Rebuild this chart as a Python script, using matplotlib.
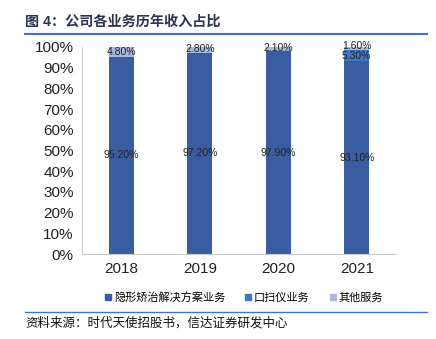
import numpy as np
import matplotlib
matplotlib.use('Agg')
import matplotlib.pyplot as plt
from matplotlib.lines import Line2D

plt.rcParams['font.family'] = ['Liberation Sans', 'Noto Sans CJK SC', 'DejaVu Sans']

############### Data
years = ['2018', '2019', '2020', '2021']
series = ['隐形矫治解决方案业务', '口扫仪业务', '其他服务']
invisible = [95.2, 97.2, 97.9, 93.1]
scanner = [0.0, 0.0, 0.0, 5.3]
other = [4.8, 2.8, 2.1, 1.6]
colors = ['#3A5CA1', '#4472C4', '#A9B9DE']

############### Figure
fig = plt.figure(figsize=(4.36, 3.39), dpi=100)
ax = fig.add_axes([82/436, 1-254/339, 314/436, 207/339])

x = np.arange(len(years))
w = 0.32
bottom = np.zeros(len(years))
for vals, c, name in zip([invisible, scanner, other], colors, series):
    vals = np.array(vals)
    ax.bar(x, vals, w, bottom=bottom, color=c, label=name, zorder=2)
    for xi, v, b in zip(x, vals, bottom):
        if v <= 0:
            continue
        y = b + v / 2
        if v < 2:
            y = b + v / 2 + 1.3
        elif v < 4:
            y = b + v / 2 + 0.6
        ax.text(xi, y, '%.2f%%' % v, ha='center', va='center', clip_on=False,
                fontsize=7.5, color='#222222', zorder=3)
    bottom = bottom + vals

ax.set_xlim(-0.5, len(years) - 0.5)
ax.set_ylim(0, 100)
ax.set_xticks(x)
ax.set_xticklabels(years, fontsize=11)
ax.set_yticks(np.arange(0, 101, 10))
ax.set_yticklabels(['%d%%' % v for v in range(0, 101, 10)], fontsize=11)
ax.tick_params(length=0, pad=6, colors='#222222')
for s in ['top', 'right']:
    ax.spines[s].set_visible(False)
ax.spines['left'].set_color('#D0D0D0')
ax.spines['bottom'].set_color('#C8C8C8')

############### Legend
handles = [Line2D([], [], marker='s', linestyle='none', markersize=4,
                  color=c) for c in colors]
fig.legend(handles, series, loc='center', bbox_to_anchor=(244/436, 1-297/339),
           ncol=3, frameon=False, fontsize=8, handlelength=0.6,
           handletextpad=0.2, columnspacing=1.8)

############### Title and source
fig.text(25/436, 1-22/339, '图 4：公司各业务历年收入占比', fontsize=10.2,
         fontweight='bold', color='#2B3550', va='center')
fig.add_artist(Line2D([25/436, 427/436], [1-34/339, 1-34/339],
                      color='#4472C4', lw=1.5))
fig.add_artist(Line2D([25/436, 427/436], [1-312/339, 1-312/339],
                      color='#4472C4', lw=1.0))
fig.text(25/436, 1-323/339, '资料来源：时代天使招股书，信达证券研发中心',
         fontsize=9, style='italic', color='#111111', va='center')

fig.savefig('out.png', dpi=100)
